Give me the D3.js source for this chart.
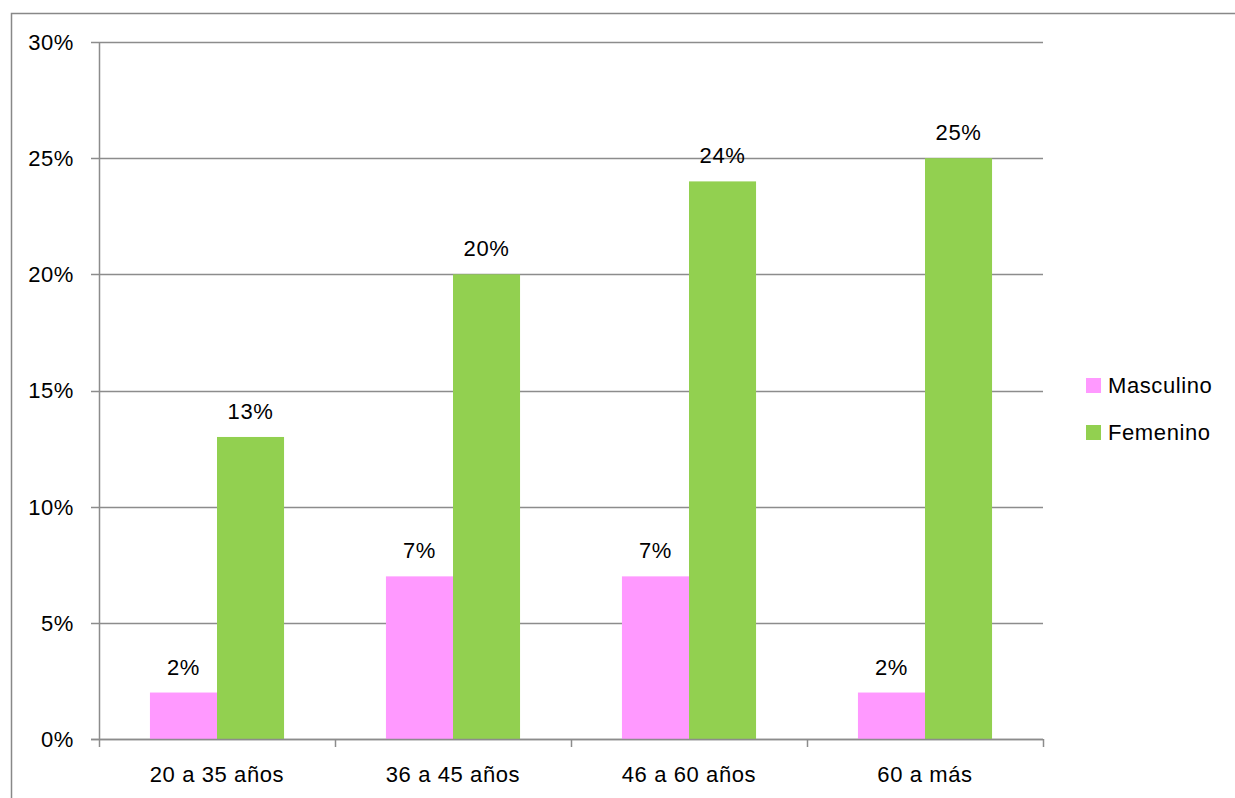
<!DOCTYPE html>
<html><head><meta charset="utf-8">
<script src="https://cdn.jsdelivr.net/npm/d3@7"></script>
<style>body{margin:0;background:#fff;} svg{display:block;} text{font-family:"Liberation Sans",Arial,sans-serif;fill:#000;letter-spacing:0.6px;}</style>
</head><body><svg id="c" width="1235" height="798"></svg>
<script>
const categories = ["20 a 35 años","36 a 45 años","46 a 60 años","60 a más"];
const seriesNames = ["Masculino","Femenino"];
const masculino = [2,7,7,2];
const femenino = [13,20,24,25];
const yTicks = [0,5,10,15,20,25,30];
const colors = ["#FF99FF","#92D050"];

const svg = d3.select("#c");
const m = {l:99, r:1043, t:42, b:739};
const FS = 22;
svg.append("rect").attr("x",11.5).attr("y",13.5).attr("width",1240).attr("height",800)
  .attr("fill","none").attr("stroke","#888").attr("stroke-width",1.5);

const x = d3.scaleBand().domain(categories).range([m.l,m.r]).paddingInner(0).paddingOuter(0);
const x1 = d3.scaleBand().domain(seriesNames).range([0,x.bandwidth()]).paddingInner(0).paddingOuter(0.76);
const y = d3.scaleLinear().domain([0,30]).range([m.b,m.t]);

svg.append("g").selectAll("line").data(yTicks).join("line")
  .attr("x1",m.l-8).attr("x2",m.r).attr("y1",d=>Math.round(y(d))+0.5).attr("y2",d=>Math.round(y(d))+0.5)
  .attr("stroke","#8c8c8c").attr("stroke-width",1.5);
svg.append("line").attr("x1",m.l+0.5).attr("x2",m.l+0.5).attr("y1",m.t).attr("y2",m.b).attr("stroke","#8c8c8c").attr("stroke-width",1.5);
svg.append("g").selectAll("text").data(yTicks).join("text")
  .attr("x",m.l-25).attr("y",d=>y(d)).attr("dy","0.36em").attr("text-anchor","end")
  .attr("font-size",FS).text(d=>d+"%");
const bounds = categories.map(c=>x(c)).concat([m.r]);
svg.append("g").selectAll("line").data(bounds).join("line")
  .attr("x1",d=>Math.round(d)+0.5).attr("x2",d=>Math.round(d)+0.5).attr("y1",m.b).attr("y2",m.b+8)
  .attr("stroke","#8c8c8c").attr("stroke-width",1.5);
svg.append("g").selectAll("text").data(categories).join("text")
  .attr("x",d=>x(d)+x.bandwidth()/2).attr("y",m.b+43).attr("text-anchor","middle")
  .attr("font-size",FS).text(d=>d);

const data = [masculino,femenino];
data.forEach((vals,si)=>{
  const g = svg.append("g");
  g.selectAll("rect").data(vals).join("rect")
    .attr("x",(d,i)=>x(categories[i])+x1(seriesNames[si]))
    .attr("width",x1.bandwidth())
    .attr("y",d=>y(d)).attr("height",d=>m.b-y(d))
    .attr("fill",colors[si]);
  g.selectAll("text").data(vals).join("text")
    .attr("x",(d,i)=>x(categories[i])+x1(seriesNames[si])+x1.bandwidth()/2)
    .attr("y",d=>y(d)-18).attr("text-anchor","middle").attr("font-size",FS)
    .text(d=>d+"%");
});
svg.append("line").attr("x1",m.l-8).attr("x2",m.r).attr("y1",Math.round(y(0))+0.5).attr("y2",Math.round(y(0))+0.5)
  .attr("stroke","#8c8c8c").attr("stroke-width",1.5);

const lg = svg.append("g");
seriesNames.forEach((s,i)=>{
  lg.append("rect").attr("x",1086).attr("y",378+i*47).attr("width",15).attr("height",15).attr("fill",colors[i]);
  lg.append("text").attr("x",1108).attr("y",393+i*47).attr("font-size",FS).text(s);
});
</script></body></html>
